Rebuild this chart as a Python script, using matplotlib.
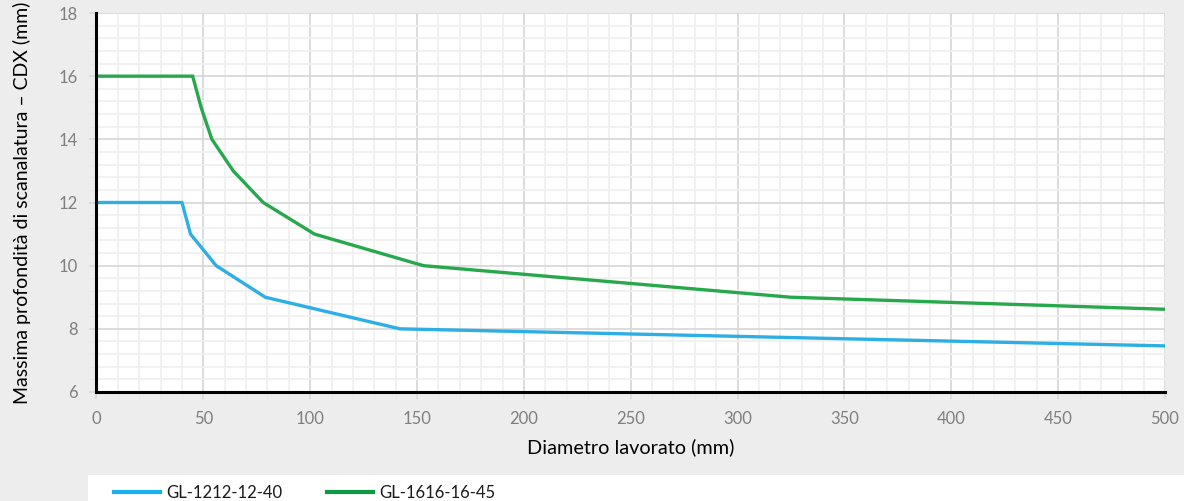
import matplotlib
matplotlib.use("Agg")
import matplotlib.pyplot as plt
from matplotlib.patches import Rectangle
from matplotlib.lines import Line2D
import numpy as np

# Series data: worked diameter (mm) vs. max groove depth CDX (mm)
x_1212 = [0, 40, 44, 56, 79, 142, 500]
y_1212 = [12, 12, 11, 10, 9, 8, 7.46]

x_1616 = [0, 45, 49, 54, 64, 78, 102, 153, 325, 500]
y_1616 = [16, 16, 15, 14, 13, 12, 11, 10, 9, 8.62]

series_names = ["GL-1212-12-40", "GL-1616-16-45"]
line_colors = ["#2DAEE4", "#28A84C"]
legend_colors = ["#17B2EE", "#0E9A47"]

x_major = np.arange(0, 501, 50)
y_major = np.arange(6, 19, 2)

plt.rcParams["font.family"] = ["Lato", "DejaVu Sans"]

W, H = 1184, 501
fig = plt.figure(figsize=(W / 100, H / 100), dpi=100)
fig.patch.set_facecolor("#EDEDED")

# white legend strip along the bottom
fig.patches.append(Rectangle((88 / W, 0), 1 - 88 / W, 26 / H,
                             transform=fig.transFigure, facecolor="white",
                             edgecolor="none", zorder=0))

ax = fig.add_axes([96.5 / W, 1 - 392 / H, (1165 - 96.5) / W, (392 - 13) / H])
ax.set_facecolor("white")

ax.plot(x_1212, y_1212, color=line_colors[0], lw=2.4, solid_joinstyle="miter", zorder=3)
ax.plot(x_1616, y_1616, color=line_colors[1], lw=2.4, solid_joinstyle="miter", zorder=3)

ax.set_xlim(0, 500)
ax.set_ylim(6, 18)
ax.set_xticks(x_major)
ax.set_yticks(y_major)
ax.set_xticks(np.arange(0, 501, 10), minor=True)
ax.set_yticks(np.arange(6, 18.01, 0.4), minor=True)

ax.grid(which="major", color="#D9D9D9", lw=1.3, zorder=1)
ax.grid(which="minor", color="#F0F0F0", lw=1.3, zorder=0.5)
ax.set_axisbelow(True)

for s in ["top", "right"]:
    ax.spines[s].set_visible(False)
for s in ["left", "bottom"]:
    ax.spines[s].set_color("black")
    ax.spines[s].set_linewidth(2.2)
    ax.spines[s].set_zorder(4)

ax.tick_params(which="major", direction="out", length=5, width=1.2,
               color="#D9D9D9", labelcolor="#7F7F7F", labelsize=12, pad=8.5)
ax.tick_params(which="minor", direction="out", length=5, width=1.0,
               color="#E8E8E8")

ax.set_xlabel("Diametro lavorato (mm)", fontsize=14.3, color="black")
ax.set_ylabel("Massima profondità di scanalatura – CDX (mm)", fontsize=14,
              color="black")
ax.xaxis.set_label_coords(0.5, -(438 - 392) / 379)
ax.yaxis.set_label_coords((31 - 96.5) / 1068.5, 0.5)

handles = [Line2D([0], [0], color=c, lw=3) for c in legend_colors]
fig.legend(handles, series_names, loc="center left",
           bbox_to_anchor=(99 / W, 8 / H), ncol=2, frameon=False,
           fontsize=12, handlelength=2.76, columnspacing=2.7, handletextpad=0.36,
           labelcolor="#1A1A1A")

fig.savefig("out.png", dpi=100, facecolor=fig.get_facecolor())
